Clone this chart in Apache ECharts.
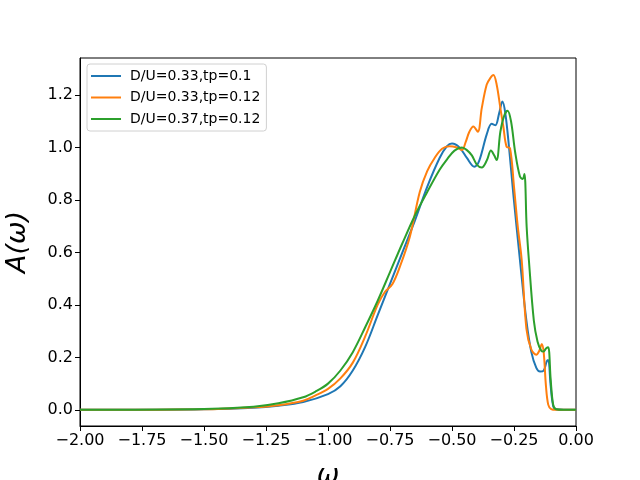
<!DOCTYPE html>
<html><head><meta charset="utf-8">
<script src="https://cdn.jsdelivr.net/npm/echarts@6/dist/echarts.min.js"></script>
<style>html,body{margin:0;padding:0;background:#fff}#c{width:640px;height:480px}</style>
</head><body><div id="c"></div>
<script>
var seriesNames = ['D/U=0.33,tp=0.1', 'D/U=0.33,tp=0.12', 'D/U=0.37,tp=0.12'];
var xTicks = [-2.0, -1.75, -1.5, -1.25, -1.0, -0.75, -0.5, -0.25, 0.0];
var yTicks = [0.0, 0.2, 0.4, 0.6, 0.8, 1.0, 1.2];

var blueX = [-2.0,-1.75,-1.5,-1.3,-1.2,-1.1,-1.0,-0.95,-0.9,-0.85,-0.8,-0.75,-0.7,-0.65,-0.6,-0.55,-0.52,-0.5,-0.47,-0.44,-0.41,-0.39,-0.36,-0.34,-0.325,-0.31,-0.297,-0.285,-0.27,-0.253,-0.226,-0.2,-0.18,-0.16,-0.145,-0.13,-0.118,-0.112,-0.102,-0.092,-0.08,-0.05,0.0];
var blueY = [0,0.0005,0.002,0.008,0.016,0.03,0.06,0.09,0.15,0.24,0.36,0.48,0.6,0.72,0.85,0.96,1.005,1.015,1.0,0.96,0.927,0.95,1.05,1.09,1.085,1.13,1.175,1.13,1.0,0.825,0.571,0.34,0.22,0.16,0.146,0.15,0.185,0.19,0.09,0.015,0.002,0,0];

var orangeX = [-2.0,-1.5,-1.3,-1.2,-1.1,-1.05,-1.0,-0.95,-0.9,-0.85,-0.8,-0.77,-0.74,-0.71,-0.67,-0.63,-0.6,-0.57,-0.54,-0.51,-0.48,-0.46,-0.445,-0.43,-0.414,-0.396,-0.38,-0.36,-0.345,-0.333,-0.32,-0.305,-0.293,-0.28,-0.266,-0.25,-0.235,-0.219,-0.2,-0.18,-0.16,-0.148,-0.138,-0.13,-0.121,-0.112,-0.1,-0.08,0.0];
var orangeY = [0,0.002,0.01,0.018,0.035,0.055,0.08,0.12,0.18,0.28,0.4,0.45,0.48,0.546,0.66,0.83,0.91,0.96,0.995,1.005,1.0,0.99,1.02,1.06,1.08,1.06,1.15,1.24,1.265,1.276,1.24,1.15,1.08,1.003,0.997,0.85,0.7,0.571,0.31,0.23,0.21,0.225,0.251,0.216,0.089,0.02,0.003,0,0];

var greenX = [-2.0,-1.5,-1.3,-1.2,-1.1,-1.05,-1.0,-0.95,-0.9,-0.85,-0.8,-0.75,-0.7,-0.65,-0.6,-0.55,-0.52,-0.49,-0.46,-0.44,-0.42,-0.4,-0.38,-0.36,-0.343,-0.33,-0.32,-0.305,-0.29,-0.276,-0.262,-0.245,-0.226,-0.215,-0.208,-0.199,-0.19,-0.17,-0.155,-0.14,-0.132,-0.12,-0.112,-0.102,-0.092,-0.08,-0.05,0.0];
var greenY = [0,0.003,0.012,0.025,0.048,0.07,0.1,0.15,0.22,0.315,0.415,0.525,0.635,0.74,0.83,0.915,0.955,0.988,1.0,0.99,0.97,0.935,0.924,0.95,0.988,0.97,0.952,1.06,1.12,1.14,1.1,0.98,0.889,0.88,0.899,0.698,0.571,0.34,0.26,0.225,0.222,0.235,0.239,0.114,0.02,0.002,0,0];

var colors = ['#1f77b4', '#ff7f0e', '#2ca02c'];
function zip(xs, ys){ return xs.map(function(x,i){ return [x, ys[i]]; }); }
var allData = [zip(blueX, blueY), zip(orangeX, orangeY), zip(greenX, greenY)];

var chart = echarts.init(document.getElementById('c'), null, {renderer:'canvas'});
var font = 'DejaVu Sans';
chart.setOption({
  animation: false,
  backgroundColor: '#fff',
  grid: {left: 80, right: 64, top: 58, bottom: 54, show: true, borderColor: '#000', borderWidth: 1,
    backgroundColor: 'transparent', containLabel: false, outerBoundsMode: 'none'},
  legend: {
    orient: 'vertical', left: 87, top: 64, data: seriesNames,
    icon: 'rect', itemWidth: 30, itemHeight: 2, itemGap: 7.5,
    padding: [5, 6, 5, 4],
    backgroundColor: '#fff', borderColor: '#d0d0d0', borderWidth: 1, borderRadius: 3,
    textStyle: {fontFamily: font, fontSize: 14, color: '#000', lineHeight: 14, padding: [0,0,0,4]}
  },
  xAxis: {
    type: 'value', min: -2, max: 0, interval: 0.25,
    name: 'ω', nameLocation: 'middle', nameGap: 36,
    nameTextStyle: {fontFamily: font, fontSize: 27, fontStyle: 'italic', color: '#000'},
    axisLine: {show: true, onZero: false, lineStyle: {color: '#000', width: 1}},
    axisTick: {show: true, inside: false, length: 5, lineStyle: {color: '#000'}},
    axisLabel: {fontFamily: font, fontSize: 16, color: '#000', margin: 7,
      formatter: function(v){ var s = Math.abs(v).toFixed(2); return (v < -1e-9 ? '\u2212' : '') + s; }},
    splitLine: {show: false}
  },
  yAxis: {
    type: 'value', min: -0.0615, max: 1.341,
    name: 'A(ω)', nameLocation: 'middle', nameGap: 49, nameRotate: 90,
    nameTextStyle: {fontFamily: font, fontSize: 27, fontStyle: 'italic', color: '#000'},
    axisLine: {show: true, onZero: false, lineStyle: {color: '#000', width: 1}},
    axisTick: {show: true, inside: false, length: 5, lineStyle: {color: '#000'}, customValues: yTicks},
    axisLabel: {fontFamily: font, fontSize: 16, color: '#000', margin: 7, customValues: yTicks,
      formatter: function(v){ return v.toFixed(1); }},
    splitLine: {show: false}
  },
  series: allData.map(function(d, i){
    return {
      name: seriesNames[i], type: 'line', data: d, showSymbol: false, symbol: 'none',
      smooth: 0.35, color: colors[i],
      lineStyle: {width: 2, color: colors[i]}, z: 2 + i
    };
  })
});
</script></body></html>
